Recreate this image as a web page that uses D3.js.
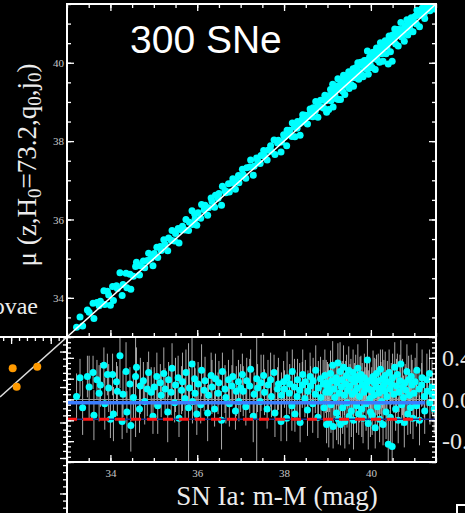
<!DOCTYPE html>
<html>
<head>
<meta charset="utf-8">
<script src="https://cdn.jsdelivr.net/npm/d3@7"></script>
<style>
  html, body { margin: 0; padding: 0; background: #000; overflow: hidden; }
</style>
</head>
<body>
<div id="chart"></div>
<script>
// SN Ia distance modulus (m-M)
const snMM = [
  33.22, 33.3, 33.36, 33.47, 33.51, 33.6, 33.62, 33.69, 33.74, 33.77, 33.85, 33.87, 33.93, 33.96, 34.0,
  34.05, 34.07, 34.14, 34.16, 34.22, 34.27, 34.29, 34.36, 34.38, 34.45, 34.47, 34.53, 34.58, 34.6, 34.67, 34.69, 34.76, 34.79, 34.85, 34.88, 34.94, 34.98,
  35.01, 35.07, 35.09, 35.15, 35.17, 35.23, 35.26, 35.32, 35.34, 35.4, 35.42, 35.48, 35.5, 35.56, 35.58, 35.64, 35.66, 35.72, 35.74, 35.8, 35.82, 35.88, 35.89, 35.94, 35.95, 35.99,
  36.02, 36.08, 36.1, 36.16, 36.18, 36.24, 36.26, 36.32, 36.34, 36.4, 36.42, 36.48, 36.5, 36.56, 36.58, 36.64, 36.66, 36.72, 36.74, 36.8, 36.82, 36.88, 36.9, 36.95, 36.96, 37.0,
  37.04, 37.06, 37.12, 37.14, 37.21, 37.23, 37.29, 37.31, 37.37, 37.39, 37.45, 37.47, 37.53, 37.55, 37.61, 37.63, 37.69, 37.71, 37.77, 37.79, 37.85, 37.87, 37.93, 37.94, 37.99,
  38.01, 38.06, 38.07, 38.12, 38.13, 38.18, 38.19, 38.24, 38.25, 38.3, 38.31, 38.36, 38.37, 38.42, 38.43, 38.48, 38.49, 38.54, 38.55, 38.6, 38.61, 38.66, 38.67, 38.72, 38.73, 38.78, 38.79, 38.84, 38.85, 38.9, 38.92, 38.94, 38.96, 38.97, 38.98, 39.0,
  39.02, 39.03, 39.05, 39.07, 39.08, 39.1, 39.12, 39.13, 39.15, 39.17, 39.2, 39.21, 39.22, 39.24, 39.25, 39.27, 39.29, 39.3, 39.32, 39.34,
  39.35, 39.37, 39.39, 39.4, 39.42, 39.44, 39.45, 39.47, 39.49, 39.5, 39.52, 39.54, 39.55, 39.57, 39.59, 39.6, 39.62, 39.64, 39.65, 39.67,
  39.69, 39.7, 39.72, 39.74, 39.75, 39.77, 39.79, 39.8, 39.82, 39.84, 39.85, 39.87, 39.89, 39.9, 39.92, 39.94, 39.95, 39.97, 39.98, 39.99,
  40.02, 40.03, 40.05, 40.07, 40.08, 40.1, 40.12, 40.13, 40.15, 40.17, 40.18, 40.2, 40.22, 40.23, 40.25, 40.27, 40.28, 40.3, 40.32, 40.33,
  40.35, 40.37, 40.38, 40.4, 40.42, 40.44, 40.45, 40.47, 40.49, 40.5, 40.53, 40.55, 40.57, 40.59, 40.61, 40.63, 40.65, 40.67, 40.69, 40.71,
  40.73, 40.75, 40.77, 40.79, 40.81, 40.83, 40.85, 40.87, 40.89, 40.91, 40.93, 40.95, 40.97, 40.99,
  41.02, 41.05, 41.06, 41.11, 41.12, 41.17, 41.18, 41.23, 41.24, 41.29, 41.3, 41.35, 41.36, 41.41, 41.42, 41.46, 41.48
];

// Hubble residuals mu(z) - (m-M), mag
const snResid = [
  0.03, 0.21, -0.08, 0.22, 0.12, 0.26, -0.15, 0.19, 0.06, 0.14, 0.33, -0.04, 0.24, 0.11, -0.19,
  0.24, -0.14, 0.17, 0.08, 0.42, -0.21, 0.05, 0.27, -0.12, 0.15, -0.25, 0.02, 0.22, 0.31, -0.09, 0.13, 0.18, -0.02, 0.1, 0.26, 0.07, -0.16,
  0.12, 0.22, -0.06, 0.16, 0.04, 0.25, 0.1, -0.12, 0.19, 0.07, 0.3, -0.03, 0.14, 0.21, -0.18, 0.09, 0.17, 0.01, 0.26, -0.08, 0.11, 0.34, -0.02, 0.2, 0.06, -0.14,
  0.15, -0.05, 0.28, 0.09, 0.18, -0.13, 0.04, 0.23, 0.12, -0.09, 0.2, 0.06, 0.16, -0.2, 0.27, 0.1, 0.02, 0.19, -0.04, 0.13, 0.22, -0.11, 0.08, 0.17, -0.02, 0.11,
  0.24, 0.08, -0.07, 0.18, 0.13, 0.29, -0.16, 0.05, 0.2, 0.11, -0.02, 0.16, 0.23, 0.07, -0.09, 0.14, 0.19, 0.03, 0.26, -0.13, 0.1, 0.15, -0.21, 0.04, 0.17,
  0.1, -0.18, 0.21, 0.06, 0.15, -0.06, 0.27, 0.12, -0.14, 0.03, 0.19, 0.09, -0.22, 0.14, 0.24, 0.01, 0.17, -0.1, 0.08, 0.22, 0.13, -0.04, 0.18, 0.05, 0.28, -0.17, 0.11, 0.2, 0.02, 0.15, -0.08, 0.23, 0.07, 0.16, -0.24, 0.12,
  0.14, -0.22, 0.07, 0.25, -0.05, 0.18, 0.33, -0.26, 0.1, 0.02, 0.21, -0.13, 0.16, 0.35, -0.19, 0.06, 0.27, -0.24, 0.12, 0.19,
  -0.08, 0.31, 0.04, -0.21, 0.15, 0.23, -0.03, 0.09, 0.28, -0.16, 0.13, 0.2, -0.11, 0.05, 0.26, -0.2, 0.17, 0.08, 0.22, -0.06,
  0.11, 0.3, -0.14, 0.03, 0.19, 0.24, -0.09, 0.14, -0.18, 0.07, 0.21, 0.12, -0.04, 0.16, 0.38, -0.23, 0.1, 0.18, 0.01, -0.12,
  0.09, -0.15, 0.22, 0.04, 0.16, -0.27, 0.12, 0.25, -0.07, 0.18, 0.06, -0.19, 0.29, 0.11, -0.02, 0.2, -0.24, 0.14, 0.08, 0.23,
  -0.12, 0.03, 0.17, -0.43, 0.26, 0.1, -0.17, 0.15, -0.45, 0.21, 0.05, 0.31, -0.09, 0.13, 0.24, -0.2, 0.07, 0.18, 0.34, -0.05,
  0.12, 0.02, -0.22, 0.16, 0.09, 0.27, -0.14, 0.19, 0.04, -0.08, 0.22, 0.14, -0.18, 0.06,
  0.17, -0.06, 0.28, 0.1, -0.2, 0.14, 0.21, 0.03, -0.11, 0.19, 0.08, 0.25, -0.03, 0.12, 0.05, -0.09, 0.02
];

// 1-sigma errors on the residuals, mag
const snErr = [
  0.22, 0.18, 0.26, 0.2, 0.3, 0.16, 0.24, 0.19, 0.27, 0.21, 0.17, 0.25, 0.2, 0.23, 0.18,
  0.2, 0.26, 0.19, 0.24, 0.31, 0.17, 0.22, 0.28, 0.2, 0.16, 0.25, 0.21, 0.58, 0.19, 0.23, 0.27, 0.18, 0.22, 0.26, 0.2, 0.24, 0.17,
  0.19, 0.23, 0.27, 0.18, 0.21, 0.25, 0.2, 0.29, 0.17, 0.22, 0.24, 0.19, 0.26, 0.21, 0.18, 0.23, 0.28, 0.2, 0.22, 0.62, 0.19, 0.25, 0.21, 0.17, 0.24, 0.2,
  0.21, 0.18, 0.25, 0.2, 0.23, 0.27, 0.19, 0.22, 0.26, 0.17, 0.24, 0.2, 0.21, 0.28, 0.18, 0.23, 0.25, 0.19, 0.22, 0.2, 0.26, 0.18, 0.24, 0.21, 0.19, 0.23,
  0.2, 0.24, 0.18, 0.22, 0.26, 0.19, 0.25, 0.21, 0.95, 0.23, 0.18, 0.27, 0.2, 0.22, 0.19, 0.24, 0.26, 0.2, 0.17, 0.23, 0.21, 0.25, 0.19, 0.22, 0.2,
  0.18, 0.22, 0.25, 0.2, 0.19, 0.24, 0.21, 0.27, 0.17, 0.23, 0.2, 0.26, 0.19, 0.22, 0.24, 0.18, 0.21, 0.25, 0.2, 0.23, 0.19, 0.28, 0.22, 0.18, 0.24, 0.2, 0.26, 0.21, 0.19, 0.23, 0.17, 0.25, 0.2, 0.22, 0.18, 0.24,
  0.2, 0.24, 0.19, 0.22, 0.27, 0.18, 0.23, 0.21, 0.25, 0.2, 0.17, 0.26, 0.22, 0.19, 0.24, 0.21, 0.28, 0.2, 0.23, 0.18,
  0.25, 0.21, 0.19, 0.26, 0.22, 0.2, 0.24, 0.18, 0.23, 0.27, 0.21, 0.19, 0.25, 0.2, 0.22, 0.28, 0.18, 0.24, 0.21, 0.26,
  0.19, 0.23, 0.2, 0.25, 0.22, 0.18, 0.27, 0.21, 0.24, 0.2, 0.23, 0.19, 0.26, 0.22, 0.2, 0.25, 0.18, 0.23, 0.21, 0.24,
  0.22, 0.19, 0.25, 0.21, 0.24, 0.2, 0.27, 0.18, 0.23, 0.26, 0.2, 0.22, 0.19, 0.25, 0.21, 0.28, 0.2, 0.24, 0.18, 0.23,
  0.26, 0.21, 0.2, 0.24, 0.22, 0.19, 0.27, 0.2, 0.25, 0.23, 0.18, 0.24, 0.21, 0.26, 0.2, 0.22, 0.19, 0.25, 0.23, 0.2,
  0.27, 0.21, 0.24, 0.18, 0.22, 0.26, 0.2, 0.23, 0.19, 0.25, 0.21, 0.24, 0.2, 0.22,
  0.23, 0.2, 0.26, 0.19, 0.24, 0.21, 0.27, 0.2, 0.22, 0.25, 0.18, 0.23, 0.21, 0.26, 0.2, 0.24, 0.19
];

// Cepheid-host SNe in the neighbouring (cut off) panel
const calibX = [31.04, 31.14, 31.66];
const calibY = [31.53, 31.01, 31.57];

// Reference levels in the residual panel
const meanResid = -0.03;
const offsetResid = -0.19;

// Tick labels
const muTicks = [34, 36, 38, 40];
const mmTicks = [34, 36, 38, 40];
const residTicks = [0.4, 0.0, -0.4];

const titleText = "300 SNe";
const xLabel = "SN Ia: m-M (mag)";
const calibLabel = "Supernovae";

function createHubbleChart(element) {
    const svgContainer = d3.select(`#${element}`);
    svgContainer.selectAll("*").remove();

    const W = 465, H = 513;
    // panel edges in page pixels (figure is cropped)
    const left = 67, right = 436, top = 4, mid = 337, bottom = 462;

    const svg = svgContainer.append("svg")
        .attr("width", W)
        .attr("height", H)
        .style("background", "#000");

    // Scales
    const x = d3.scaleLinear().domain([33, 41.5]).range([left, right]);
    const y = d3.scaleLinear().domain([33, 41.5]).range([mid, top]);
    const yr = d3.scaleLinear().domain([-0.6, 0.6]).range([bottom, mid]);
    const xc = d3.scaleLinear().domain([30.72, 32.41]).range([0, left]);
    const yc = d3.scaleLinear().domain([27.45, 32.41]).range([H, mid]);

    const serif = "'Liberation Serif', 'Times New Roman', serif";

    // Clip regions
    const defs = svg.append("defs");
    defs.append("clipPath").attr("id", "clipTop")
        .append("rect").attr("x", left).attr("y", top).attr("width", right - left).attr("height", mid - top);
    defs.append("clipPath").attr("id", "clipRes")
        .append("rect").attr("x", left).attr("y", mid).attr("width", right - left).attr("height", bottom - mid);
    defs.append("clipPath").attr("id", "clipCal")
        .append("rect").attr("x", 0).attr("y", mid).attr("width", left).attr("height", H - mid);

    const sn = snMM.map((m, i) => ({ mm: m, r: snResid[i], e: snErr[i] }));

    // ---- Top panel: mu(z) vs m-M
    const topG = svg.append("g").attr("clip-path", "url(#clipTop)");
    topG.selectAll(".pt")
        .data(sn)
        .enter()
        .append("circle")
        .attr("class", "pt")
        .attr("cx", d => x(d.mm))
        .attr("cy", d => y(d.mm + d.r))
        .attr("r", 3.5)
        .attr("fill", "#00ffff");
    topG.append("line")
        .attr("x1", x(33)).attr("y1", y(33))
        .attr("x2", x(41.5)).attr("y2", y(41.5))
        .attr("stroke", "#fff").attr("stroke-width", 1.5);

    // ---- Residual panel
    const resG = svg.append("g").attr("clip-path", "url(#clipRes)");
    resG.selectAll(".err")
        .data(sn)
        .enter()
        .append("line")
        .attr("class", "err")
        .attr("x1", d => x(d.mm)).attr("x2", d => x(d.mm))
        .attr("y1", d => yr(d.r - d.e)).attr("y2", d => yr(d.r + d.e))
        .attr("stroke", "#c8c8c8").attr("stroke-width", 1).attr("opacity", 0.85);

    resG.append("line")
        .attr("x1", x(33)).attr("x2", x(41.5)).attr("y1", yr(0)).attr("y2", yr(0))
        .attr("stroke", "#9a9a9a").attr("stroke-width", 1);

    resG.selectAll(".rpt")
        .data(sn)
        .enter()
        .append("circle")
        .attr("class", "rpt")
        .attr("cx", d => x(d.mm))
        .attr("cy", d => yr(d.r))
        .attr("r", 3.5)
        .attr("fill", "#00ffff");

    resG.append("line")
        .attr("x1", x(33)).attr("x2", x(41.5)).attr("y1", yr(offsetResid)).attr("y2", yr(offsetResid))
        .attr("stroke", "#1d2f8a").attr("stroke-width", 1.5);
    resG.append("line")
        .attr("x1", x(33)).attr("x2", x(41.25)).attr("y1", yr(meanResid)).attr("y2", yr(meanResid))
        .attr("stroke", "#3a7cff").attr("stroke-width", 3.5);
    resG.append("line")
        .attr("x1", x(33)).attr("x2", x(41.15)).attr("y1", yr(offsetResid)).attr("y2", yr(offsetResid))
        .attr("stroke", "#ff1414").attr("stroke-width", 3).attr("stroke-dasharray", "10,6");

    // ---- Cut-off calibrator panel at the left
    const calG = svg.append("g").attr("clip-path", "url(#clipCal)");
    calG.append("line")
        .attr("x1", xc(30.72)).attr("y1", yc(30.72))
        .attr("x2", xc(32.41)).attr("y2", yc(32.41))
        .attr("stroke", "#ddd").attr("stroke-width", 1.5);
    calG.selectAll(".cal")
        .data(calibX.map((v, i) => ({ x: v, y: calibY[i] })))
        .enter()
        .append("circle")
        .attr("cx", d => xc(d.x))
        .attr("cy", d => yc(d.y))
        .attr("r", 4)
        .attr("fill", "#ff9a00");

    // ---- Ticks (inward, IDL style)
    const round = v => +v.toFixed(3);
    const isMult = (v, s) => Math.abs(Math.round(v / s) * s - v) < 1e-6;
    const magMinor = d3.range(33, 41.51, 0.5).map(round);
    const magMajor = magMinor.filter(v => isMult(v, 2));
    const resMinor = d3.range(-0.6, 0.601, 0.05).map(round);
    const resMajor = resMinor.filter(v => isMult(v, 0.2));

    function tickAxis(axisFn, scale, values, size, tx, ty) {
        const g = svg.append("g")
            .attr("transform", `translate(${tx},${ty})`)
            .call(axisFn(scale).tickValues(values).tickSize(-size).tickFormat(""));
        g.select(".domain").remove();
        g.selectAll("line").attr("stroke", "#fff").attr("stroke-width", 1.3);
        return g;
    }

    // top panel
    [[magMinor, 4], [magMajor, 7]].forEach(([vals, s]) => {
        tickAxis(d3.axisLeft, y, vals, s, left, 0);
        tickAxis(d3.axisRight, y, vals, s, right, 0);
        tickAxis(d3.axisTop, x, vals, s, 0, top);
        tickAxis(d3.axisBottom, x, vals, s, 0, mid);
    });
    // residual panel
    [[resMinor, 4], [resMajor, 7]].forEach(([vals, s]) => {
        tickAxis(d3.axisLeft, yr, vals, s, left, 0);
        tickAxis(d3.axisRight, yr, vals, s, right, 0);
    });
    [[magMinor, 4], [magMajor, 7]].forEach(([vals, s]) => {
        tickAxis(d3.axisBottom, x, vals, s, 0, bottom);
    });
    // calibrator panel
    const calXMinor = d3.range(30.8, 32.41, 0.2).map(round);
    const calYMinor = d3.range(27.6, 32.41, 0.2).map(round);
    [[calXMinor, 4], [calXMinor.filter(v => isMult(v, 1)), 7]].forEach(([vals, s]) => {
        tickAxis(d3.axisTop, xc, vals, s, 0, mid);
    });
    [[calYMinor, 4], [calYMinor.filter(v => isMult(v, 1)), 7]].forEach(([vals, s]) => {
        tickAxis(d3.axisRight, yc, vals, s, left, 0);
    });

    // ---- Tick labels
    const muAxis = svg.append("g")
        .attr("transform", `translate(${left},0)`)
        .call(d3.axisLeft(y).tickValues(muTicks).tickSize(0).tickPadding(3).tickFormat(d3.format("d")));
    muAxis.select(".domain").remove();
    muAxis.selectAll("text").attr("fill", "#c8c8c8").style("font-family", serif).style("font-size", "11px");

    const mmAxis = svg.append("g")
        .attr("transform", `translate(0,${bottom})`)
        .call(d3.axisBottom(x).tickValues(mmTicks).tickSize(0).tickPadding(7).tickFormat(d3.format("d")));
    mmAxis.select(".domain").remove();
    mmAxis.selectAll("text").attr("fill", "#c8c8c8").style("font-family", serif).style("font-size", "11px");

    const resAxis = svg.append("g")
        .attr("transform", `translate(${right},0)`)
        .call(d3.axisRight(yr).tickValues(residTicks).tickSize(0).tickPadding(6).tickFormat(v => v.toFixed(1)));
    resAxis.select(".domain").remove();
    resAxis.selectAll("text").attr("fill", "#e6e6e6").style("font-family", serif).style("font-size", "24px");

    // ---- Frames
    const frame = [
        [left, top, left, H],
        [left, top, right, top],
        [right, top, right, bottom],
        [0, mid, right, mid],
        [left, bottom, right, bottom]
    ];
    svg.selectAll(".frame")
        .data(frame)
        .enter()
        .append("line")
        .attr("x1", d => d[0]).attr("y1", d => d[1])
        .attr("x2", d => d[2]).attr("y2", d => d[3])
        .attr("stroke", "#fff").attr("stroke-width", 2)
        .attr("stroke-linecap", "square");
    // corner of a box peeking in at the bottom right
    svg.append("rect")
        .attr("x", 457).attr("y", 505).attr("width", 40).attr("height", 40)
        .attr("fill", "none").attr("stroke", "#fff").attr("stroke-width", 2);

    // ---- Texts
    svg.append("text")
        .attr("x", 130).attr("y", 53)
        .attr("fill", "#fff")
        .style("font-family", "'Liberation Sans', Arial, sans-serif")
        .style("font-size", "39px")
        .text(titleText);

    svg.append("text")
        .attr("x", 277).attr("y", 505)
        .attr("text-anchor", "middle")
        .attr("fill", "#ececec")
        .style("font-family", serif)
        .style("font-size", "27px")
        .text(xLabel);

    svg.append("text")
        .attr("x", 38).attr("y", 314)
        .attr("text-anchor", "end")
        .attr("fill", "#ececec")
        .style("font-family", serif)
        .style("font-size", "24px")
        .text(calibLabel);

    const yl = svg.append("text")
        .attr("transform", "translate(36,165) rotate(-90)")
        .attr("text-anchor", "middle")
        .attr("fill", "#ececec")
        .style("font-family", serif)
        .style("font-size", "27px");
    const parts = [["μ (z,H", false], ["0", true], ["=73.2,q", false], ["0", true], [",j", false], ["0", true], [")", false]];
    parts.forEach(([t, sub], i) => {
        const prevSub = i > 0 && parts[i - 1][1];
        yl.append("tspan")
            .attr("dy", sub ? 5 : (prevSub ? -5 : 0))
            .style("font-size", sub ? "19px" : null)
            .text(t);
    });

    console.log("Hubble diagram rendering complete.");
}

createHubbleChart("chart");
</script>
</body>
</html>
